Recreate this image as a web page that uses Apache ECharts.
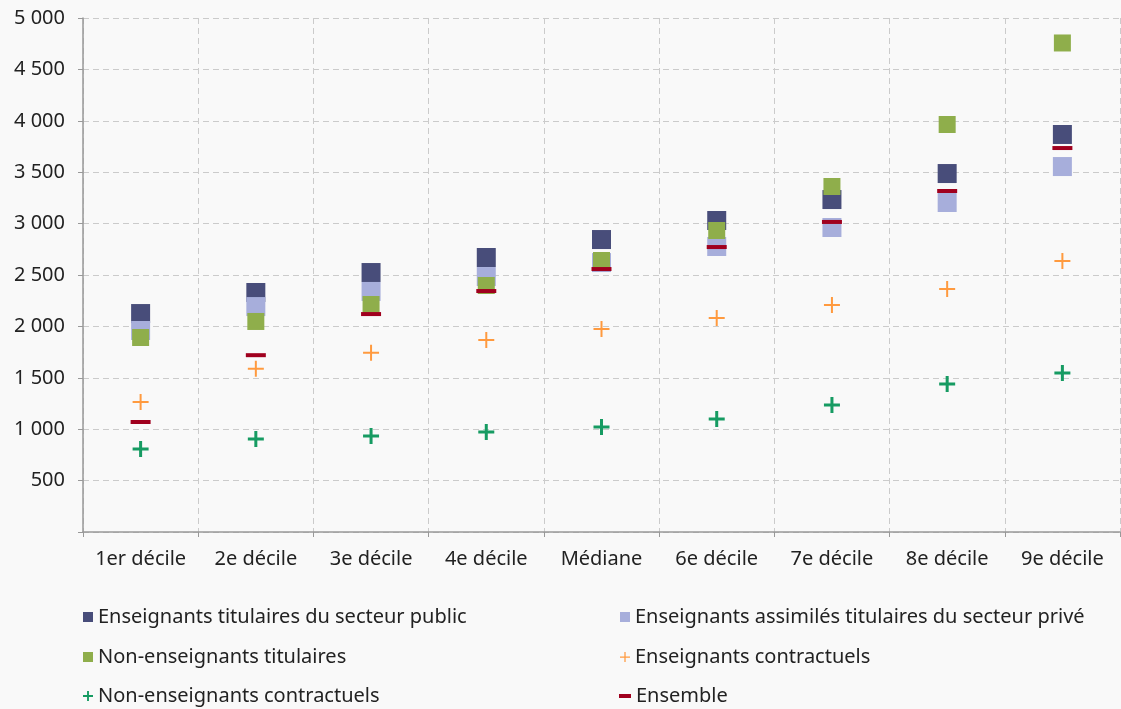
<!DOCTYPE html>
<html>
<head>
<meta charset="utf-8">
<script src="https://cdn.jsdelivr.net/npm/echarts@6/dist/echarts.min.js"></script>
<style>
  html, body { margin: 0; padding: 0; background: #f9f9f9; }
  #chart { width: 1121px; height: 709px; }
</style>
</head>
<body>
<div id="chart"></div>
<script>
// déciles de salaire net mensuel (euros)
const categories = ['1er décile', '2e décile', '3e décile', '4e décile', 'Médiane', '6e décile', '7e décile', '8e décile', '9e décile'];
const titPublic = [2125, 2330, 2524, 2670, 2845, 3030, 3234, 3487, 3867];
const assimPrive = [1960, 2193, 2340, 2485, 2621, 2777, 2962, 3205, 3555];
const nonEnsTit = [1892, 2048, 2213, 2398, 2641, 2933, 3361, 3964, 4757];
const ensContract = [1265, 1587, 1743, 1868, 1975, 2082, 2208, 2364, 2636];
const nonEnsContract = [807, 905, 934, 972, 1021, 1099, 1235, 1440, 1547];
const ensemble = [1070, 1720, 2120, 2344, 2558, 2772, 3016, 3317, 3735];

const names = [
  'Enseignants titulaires du secteur public',
  'Enseignants assimilés titulaires du secteur privé',
  'Non-enseignants titulaires',
  'Enseignants contractuels',
  'Non-enseignants contractuels',
  'Ensemble'
];

const thinCross = 'path://M7,0h2v7h7v2h-7v7h-2v-7h-7v-2h7z';
const boldCross = 'path://M6.5,0h3v6.5h6.5v3h-6.5v6.5h-3v-6.5h-6.5v-3h6.5z';

const font = 'Noto Sans';
const txt = { fontFamily: font, fontSize: 20, color: '#222', lineHeight: 22 };

function leg(name, left, top, icon, w, h) {
  return {
    data: [{ name: name, icon: icon }],
    left: left, top: top,
    itemWidth: w, itemHeight: h,
    textStyle: txt,
    selectedMode: false
  };
}

const chart = echarts.init(document.getElementById('chart'));
chart.setOption({
  backgroundColor: '#f9f9f9',
  animation: false,
  grid: { left: 83, right: 1, top: 18, bottom: 177 },
  legend: [
    leg(names[0], 78, 601, 'rect', 10, 10),
    leg(names[1], 615, 601, 'rect', 10, 10),
    leg(names[2], 78, 641, 'rect', 10, 10),
    leg(names[3], 615, 641, thinCross, 10, 10),
    leg(names[4], 78, 680, boldCross, 10, 10),
    leg(names[5], 614, 680, 'rect', 12, 4)
  ],
  xAxis: {
    type: 'category',
    data: categories,
    axisLine: { lineStyle: { color: '#999', width: 1.5 } },
    axisTick: { show: true, interval: 0, length: 5, lineStyle: { color: '#999' } },
    axisLabel: { interval: 0, fontFamily: font, fontSize: 20, color: '#222', margin: 17 },
    splitLine: { show: true, interval: 0, lineStyle: { color: '#cbcbcb', type: [6, 4] } }
  },
  yAxis: {
    type: 'value',
    min: 0, max: 5000, interval: 500,
    axisLine: { show: true, lineStyle: { color: '#999', width: 1.5 } },
    axisTick: { show: true, length: 5, lineStyle: { color: '#999' } },
    axisLabel: {
      fontFamily: font, fontSize: 20, color: '#222', margin: 18,
      formatter: v => v === 0 ? '' : String(v).replace(/\B(?=(\d{3})+(?!\d))/g, ' ')
    },
    splitLine: { lineStyle: { color: '#cbcbcb', type: [6, 4] } }
  },
  series: [
    { name: names[0], type: 'scatter', data: titPublic, symbol: 'rect', symbolSize: 19, itemStyle: { color: '#484d7a', opacity: 1 }, z: 2 },
    { name: names[1], type: 'scatter', data: assimPrive, symbol: 'rect', symbolSize: 19, itemStyle: { color: '#a7aedb', opacity: 1 }, z: 3 },
    { name: names[2], type: 'scatter', data: nonEnsTit, symbol: 'rect', symbolSize: 17, itemStyle: { color: '#8fae4b', opacity: 1 }, z: 4 },
    { name: names[3], type: 'scatter', data: ensContract, symbol: thinCross, symbolSize: 16, itemStyle: { color: '#ff9a3f', opacity: 1 }, z: 5 },
    { name: names[4], type: 'scatter', data: nonEnsContract, symbol: boldCross, symbolSize: 16, itemStyle: { color: '#169b62', opacity: 1 }, z: 6 },
    { name: names[5], type: 'scatter', data: ensemble, symbol: 'rect', symbolSize: [20, 4], itemStyle: { color: '#a0001e', opacity: 1 }, z: 7 }
  ]
});
</script>
</body>
</html>
